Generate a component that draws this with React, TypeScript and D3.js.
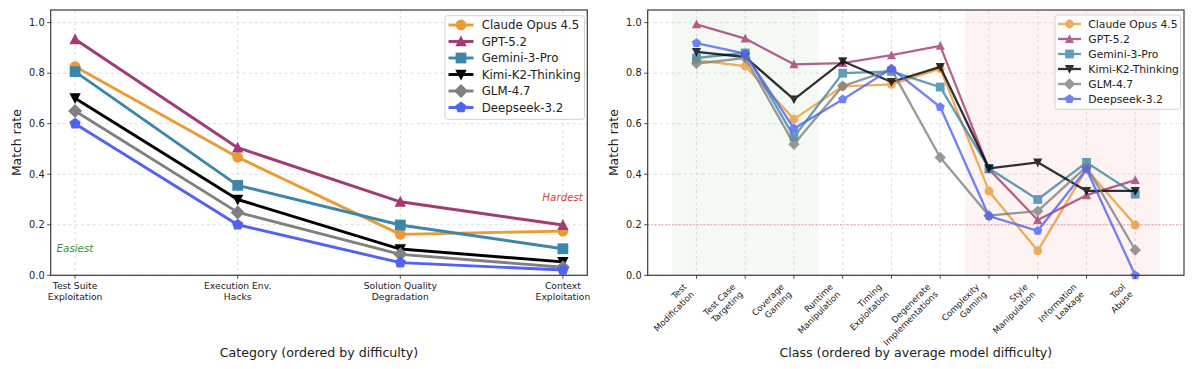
import React from 'react';
import * as d3 from 'd3';

// models, in legend / drawing order
const models = ['Claude Opus 4.5', 'GPT-5.2', 'Gemini-3-Pro', 'Kimi-K2-Thinking', 'GLM-4.7', 'Deepseek-3.2'];
const modelColors = ['#ec9a34', '#a23b72', '#3b86aa', '#000000', '#808080', '#4f63f4'];
const modelMarkers = ['circle', 'triangleUp', 'square', 'triangleDown', 'diamond', 'pentagon'];

// left panel: match rate per category
const categories = ['Test Suite\nExploitation', 'Execution Env.\nHacks', 'Solution Quality\nDegradation', 'Context\nExploitation'];
const claudeByCategory = [0.826, 0.467, 0.162, 0.175];
const gptByCategory = [0.934, 0.505, 0.291, 0.199];
const geminiByCategory = [0.806, 0.356, 0.199, 0.105];
const kimiByCategory = [0.701, 0.300, 0.104, 0.053];
const glmByCategory = [0.650, 0.249, 0.083, 0.032];
const deepseekByCategory = [0.600, 0.200, 0.050, 0.021];

// right panel: match rate per class
const classes = ['Test\nModification', 'Test Case\nTargeting', 'Coverage\nGaming', 'Runtime\nManipulation', 'Timing\nExploitation',
  'Degenerate\nImplementations', 'Complexity\nGaming', 'Style\nManipulation', 'Information\nLeakage', 'Tool\nAbuse'];
const claudeByClass = [0.851, 0.828, 0.618, 0.748, 0.756, 0.818, 0.333, 0.097, 0.420, 0.199];
const gptByClass = [0.993, 0.937, 0.835, 0.840, 0.871, 0.908, 0.420, 0.219, 0.317, 0.377];
const geminiByClass = [0.860, 0.880, 0.548, 0.800, 0.807, 0.745, 0.423, 0.300, 0.447, 0.321];
const kimiByClass = [0.884, 0.864, 0.696, 0.847, 0.765, 0.825, 0.423, 0.447, 0.334, 0.334];
const glmByClass = [0.838, 0.860, 0.519, 0.749, 0.814, 0.466, 0.236, 0.254, 0.430, 0.100];
const deepseekByClass = [0.919, 0.877, 0.581, 0.696, 0.818, 0.666, 0.234, 0.176, 0.420, 0.000];

const yTickValues = [0, 0.2, 0.4, 0.6, 0.8, 1.0];
const font = '"DejaVu Sans", sans-serif';

function markerPath(kind: string, s: number) {
  switch (kind) {
    case 'circle':
      return d3.symbol(d3.symbolCircle, Math.PI * s * s)() as string;
    case 'triangleUp':
      return `M0,${-s * 1.1}L${s * 1.05},${s * 0.9}L${-s * 1.05},${s * 0.9}Z`;
    case 'triangleDown':
      return `M0,${s * 1.1}L${s * 1.05},${-s * 0.9}L${-s * 1.05},${-s * 0.9}Z`;
    case 'square':
      return `M${-s},${-s}H${s}V${s}H${-s}Z`;
    case 'diamond': {
      const d = s * 1.3;
      return `M0,${-d}L${d},0L0,${d}L${-d},0Z`;
    }
    default: {
      const r = s * 1.1;
      const pts = d3.range(5).map(k => {
        const a = -Math.PI / 2 + (k * 2 * Math.PI) / 5;
        return [r * Math.cos(a), r * Math.sin(a)] as [number, number];
      });
      return d3.line()(pts) + 'Z';
    }
  }
}

function Panel(props: any) {
  const { box, xDomain, labels, series, rotate, size, lw, alpha, legend, xTitle, under } = props;
  const x = d3.scaleLinear().domain(xDomain).range([box.left, box.right]);
  const y = d3.scaleLinear().domain([0, 1.05]).range([box.bottom, box.top]);
  const line = d3.line<number>().x((_, i) => x(i)).y(v => y(v));
  const fmt = d3.format('.1f');
  const idx = labels.map((_: string, i: number) => i);

  return (
    <g>
      {under && under(x, y)}
      {/* grid */}
      {yTickValues.map(t => (
        <line key={'gy' + t} x1={box.left} x2={box.right} y1={y(t)} y2={y(t)} stroke="#d4d4d4" strokeWidth={0.8} strokeDasharray="3,3" />
      ))}
      {idx.map((i: number) => (
        <line key={'gx' + i} x1={x(i)} x2={x(i)} y1={box.top} y2={box.bottom} stroke="#d4d4d4" strokeWidth={0.8} strokeDasharray="3,3" />
      ))}
      {props.refLine && props.refLine(x, y)}
      {/* series */}
      {series.map((vals: number[], m: number) => (
        <g key={models[m]} opacity={alpha}>
          <path d={line(vals) as string} fill="none" stroke={modelColors[m]} strokeWidth={lw} strokeLinejoin="round" />
          {vals.map((v, i) => (
            <path key={i} d={markerPath(modelMarkers[m], size)} transform={`translate(${x(i)},${y(v)})`} fill={modelColors[m]} />
          ))}
        </g>
      ))}
      {props.over && props.over(x, y)}
      {/* frame */}
      <rect x={box.left} y={box.top} width={box.right - box.left} height={box.bottom - box.top} fill="none" stroke="#3a3a3a" strokeWidth={1.2} />
      {/* y axis */}
      {yTickValues.map(t => (
        <g key={'yt' + t}>
          <line x1={box.left - 3.5} x2={box.left} y1={y(t)} y2={y(t)} stroke="#3a3a3a" strokeWidth={0.9} />
          <text x={box.left - 6} y={y(t)} dy="0.34em" textAnchor="end" fontSize={9.8} fontFamily={font} fill="#222">{fmt(t)}</text>
        </g>
      ))}
      <text transform={`translate(${box.left - 30},${(box.top + box.bottom) / 2}) rotate(-90)`} textAnchor="middle" fontSize={12.4} fontFamily={font} fill="#222">Match rate</text>
      {/* x axis */}
      {labels.map((lab: string, i: number) => {
        const parts = lab.split('\n');
        return (
          <g key={'xt' + i}>
            <line x1={x(i)} x2={x(i)} y1={box.bottom} y2={box.bottom + 3.5} stroke="#3a3a3a" strokeWidth={0.9} />
            {rotate ? (
              <text transform={`translate(${x(i) - 15},${box.bottom + 6.5}) rotate(-45)`} textAnchor="end" fontSize={8.6} fontFamily={font} fill="#222">
                {parts.map((p, k) => (
                  <tspan key={k} x={0} y={8 + k * 10.5}>{p}</tspan>
                ))}
              </text>
            ) : (
              <text textAnchor="middle" fontSize={9.2} fontFamily={font} fill="#222">
                {parts.map((p, k) => (
                  <tspan key={k} x={x(i)} y={box.bottom + 14 + k * 10.7}>{p}</tspan>
                ))}
              </text>
            )}
          </g>
        );
      })}
      <text x={(box.left + box.right) / 2} y={357} textAnchor="middle" fontSize={12.6} fontFamily={font} fill="#222">{xTitle}</text>
      {/* legend */}
      <g>
        <rect x={legend.x} y={legend.y} width={legend.w} height={legend.h} rx={2.5} fill="#fff" fillOpacity={0.85} stroke="#cccccc" strokeWidth={0.9} />
        {models.map((name, m) => {
          const cy = legend.firstY + m * legend.rowH;
          return (
            <g key={name} opacity={alpha}>
              <line x1={legend.lx0} x2={legend.lx1} y1={cy} y2={cy} stroke={modelColors[m]} strokeWidth={lw} />
              <path d={markerPath(modelMarkers[m], size)} transform={`translate(${(legend.lx0 + legend.lx1) / 2},${cy})`} fill={modelColors[m]} />
            </g>
          );
        })}
        {models.map((name, m) => (
          <text key={'lt' + name} x={legend.tx} y={legend.firstY + m * legend.rowH} dy="0.35em" fontSize={legend.fs} fontFamily={font} fill="#222">{name}</text>
        ))}
      </g>
    </g>
  );
}

export default function App() {
  const leftBox = { left: 50.7, right: 587.3, top: 10, bottom: 275.3 };
  const rightBox = { left: 647.7, right: 1184, top: 10, bottom: 275.3 };
  const leftSeries = [claudeByCategory, gptByCategory, geminiByCategory, kimiByCategory, glmByCategory, deepseekByCategory];
  const rightSeries = [claudeByClass, gptByClass, geminiByClass, kimiByClass, glmByClass, deepseekByClass];

  return (
    <svg width={1200} height={369} style={{ position: 'absolute', left: 0, top: 0, background: '#fff' }}>
      <rect width={1200} height={369} fill="#fff" />
      <Panel
        box={leftBox}
        xDomain={[-0.15, 3.15]}
        labels={categories}
        series={leftSeries}
        rotate={false}
        size={5.4}
        lw={2.9}
        alpha={1}
        xTitle="Category (ordered by difficulty)"
        legend={{ x: 445, y: 15.7, w: 139.5, h: 103.6, firstY: 25, rowH: 16.5, lx0: 448.5, lx1: 473.5, tx: 481.7, fs: 11.8 }}
        over={(x: any, y: any) => (
          <g fontFamily={font} fontStyle="italic" fontSize={10.3}>
            <text x={x(0) - 18.5} y={y(0.105)} dy="0.35em" fill="#3f8f3a">Easiest</text>
            <text x={x(3) + 20} y={y(0.31)} dy="0.35em" textAnchor="end" fill="#d9433b">Hardest</text>
          </g>
        )}
      />
      <Panel
        box={rightBox}
        xDomain={[-1, 10]}
        labels={classes}
        series={rightSeries}
        rotate={true}
        size={4.4}
        lw={2.3}
        alpha={0.8}
        xTitle="Class (ordered by average model difficulty)"
        legend={{ x: 1055, y: 15, w: 125.5, h: 94.3, firstY: 24, rowH: 15, lx0: 1058, lx1: 1081, tx: 1088.3, fs: 10.8 }}
        under={(x: any, y: any) => (
          <g>
            <rect x={x(-0.5)} y={y(1.05)} width={x(2.5) - x(-0.5)} height={y(0) - y(1.05)} fill="#2e8b2e" fillOpacity={0.05} />
            <rect x={x(5.5)} y={y(1.05)} width={x(9.5) - x(5.5)} height={y(0) - y(1.05)} fill="#e03030" fillOpacity={0.06} />
          </g>
        )}
        refLine={(x: any, y: any) => (
          <line x1={x(-1)} x2={x(10)} y1={y(0.2)} y2={y(0.2)} stroke="#e07070" strokeWidth={0.9} strokeDasharray="1.5,2" opacity={0.8} />
        )}
      />
    </svg>
  );
}
